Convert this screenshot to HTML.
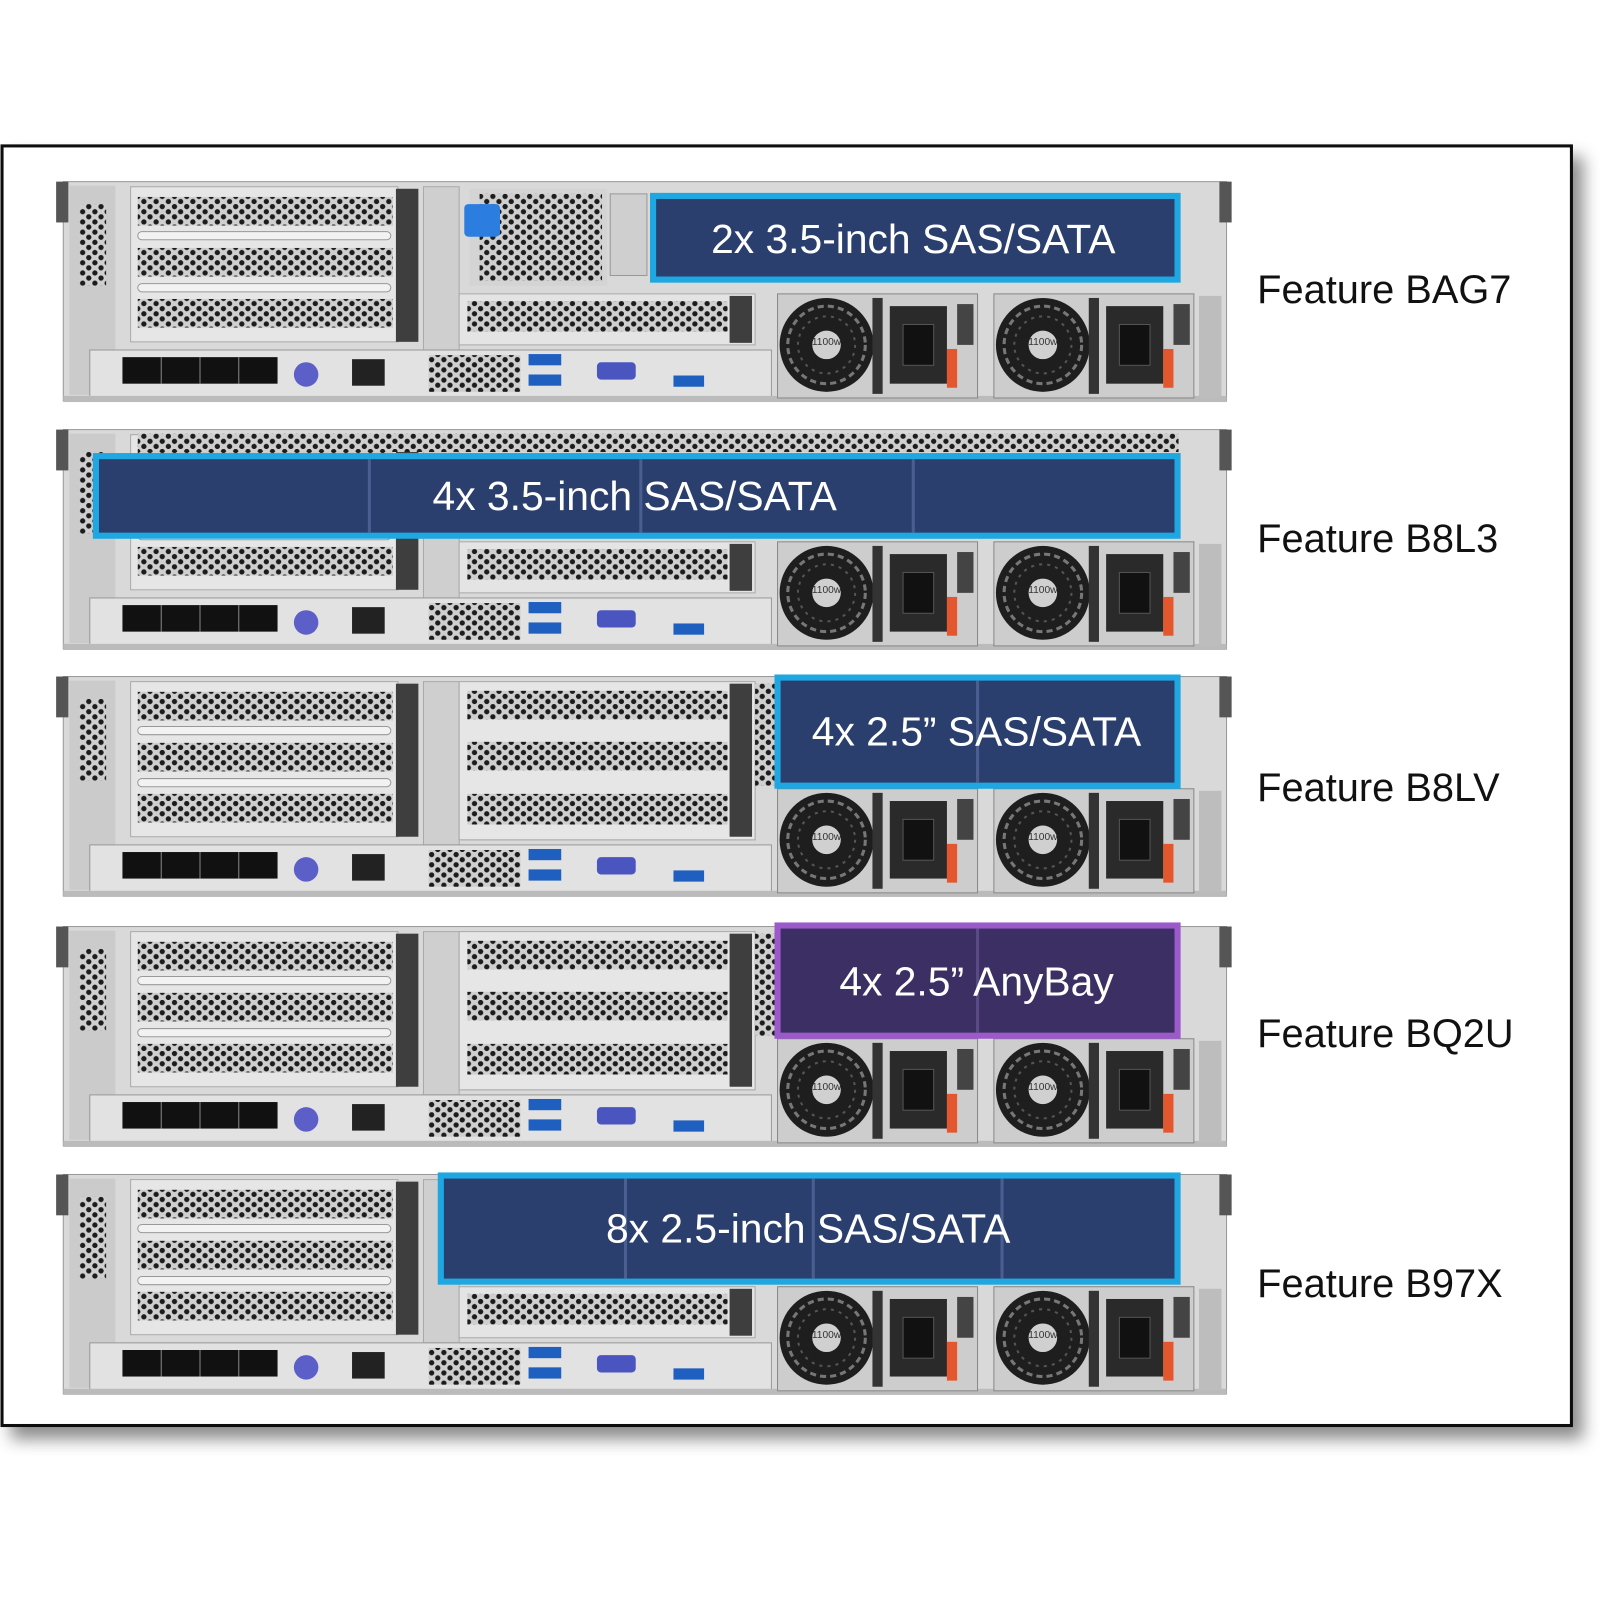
<!DOCTYPE html>
<html><head><meta charset="utf-8"><style>
html,body{margin:0;padding:0;background:#fff;width:1600px;height:1600px;overflow:hidden}
svg{display:block}
.lbl{font-family:"Liberation Sans",Arial,sans-serif;font-size:39px;fill:#111}
.bx{font-family:"Liberation Sans",Arial,sans-serif;font-size:40px;fill:#fff;text-anchor:middle;dominant-baseline:central}
.w{font-family:"Liberation Sans",Arial,sans-serif;font-size:10px;fill:#333;text-anchor:middle}
</style></head><body>
<svg width="1600" height="1600" viewBox="0 0 1568 1568" xmlns="http://www.w3.org/2000/svg">
<defs>
<pattern id="hex" width="12" height="10" patternUnits="userSpaceOnUse">
<rect width="12" height="10" fill="#cfcfcf"/>
<circle cx="3" cy="2.5" r="2.6" fill="#1c1c1c"/><circle cx="9" cy="7.5" r="2.6" fill="#1c1c1c"/>
</pattern>
<filter id="sh" x="-5%" y="-5%" width="115%" height="115%"><feDropShadow dx="10" dy="12" stdDeviation="8" flood-color="#000" flood-opacity="0.45"/></filter>
<g id="psu">
<rect x="762" y="288" width="196" height="102" fill="#cdcdcd" stroke="#888"/>
<circle cx="810" cy="338" r="46" fill="#1e1e1e"/>
<circle cx="810" cy="338" r="38" fill="none" stroke="#777" stroke-width="3" stroke-dasharray="6 4"/>
<circle cx="810" cy="338" r="28" fill="none" stroke="#555" stroke-width="2" stroke-dasharray="3 5"/>
<circle cx="810" cy="338" r="14" fill="#d0d0d0"/>
<rect x="855" y="292" width="10" height="94" fill="#333"/>
<rect x="872" y="300" width="56" height="76" fill="#2a2a2a"/>
<rect x="885" y="318" width="30" height="40" fill="#111" stroke="#555"/>
<rect x="928" y="342" width="10" height="38" fill="#e4572e"/>
<rect x="938" y="298" width="16" height="40" fill="#444"/>
</g>
<g id="srv">
<rect x="62" y="178" width="1140" height="215" fill="#d9d9d9" stroke="#999"/>
<rect x="55" y="178" width="12" height="40" fill="#555"/>
<rect x="1195" y="178" width="12" height="40" fill="#555"/>
<rect x="68" y="182" width="45" height="205" fill="#cbcbcb"/>
<rect x="78" y="200" width="26" height="80" fill="url(#hex)"/>
<rect x="128" y="183" width="262" height="152" fill="#e6e6e6" stroke="#aaa"/>
<rect x="135" y="193" width="250" height="28" fill="url(#hex)"/>
<rect x="135" y="243" width="250" height="28" fill="url(#hex)"/>
<rect x="135" y="293" width="250" height="28" fill="url(#hex)"/>
<rect x="135" y="227" width="248" height="8" rx="4" fill="#f2f2f2" stroke="#999"/>
<rect x="135" y="278" width="248" height="8" rx="4" fill="#f2f2f2" stroke="#999"/>
<rect x="388" y="185" width="22" height="150" fill="#3e3e3e"/>
<rect x="415" y="183" width="35" height="160" fill="#cfcfcf" stroke="#aaa"/>
<rect x="450" y="288" width="290" height="50" fill="#e4e4e4" stroke="#aaa"/>
<rect x="458" y="295" width="255" height="30" fill="url(#hex)"/>
<rect x="715" y="290" width="22" height="46" fill="#3e3e3e"/>
<rect x="88" y="343" width="668" height="47" fill="#e2e2e2" stroke="#999"/>
<rect x="120" y="350" width="152" height="26" fill="#111"/>
<line x1="158" y1="350" x2="158" y2="376" stroke="#888"/><line x1="196" y1="350" x2="196" y2="376" stroke="#888"/><line x1="234" y1="350" x2="234" y2="376" stroke="#888"/>
<circle cx="300" cy="367" r="12" fill="#5b5fc7"/>
<rect x="345" y="352" width="32" height="26" fill="#222"/>
<rect x="420" y="348" width="90" height="36" fill="url(#hex)"/>
<rect x="518" y="347" width="32" height="11" fill="#1f5fbf"/>
<rect x="518" y="367" width="32" height="11" fill="#1f5fbf"/>
<rect x="585" y="355" width="38" height="17" rx="4" fill="#4a55c0"/>
<rect x="660" y="368" width="30" height="11" fill="#1f5fbf"/>
<rect x="62" y="388" width="1140" height="6" fill="#bbb"/>
<use href="#psu"/>
<use href="#psu" x="212"/>
<rect x="1175" y="290" width="22" height="100" fill="#bdbdbd"/>
</g>
</defs>

<rect x="2" y="143" width="1538" height="1254" fill="#fff" stroke="#111" stroke-width="3" filter="url(#sh)"/>

<use href="#srv" y="0"/>
<use href="#srv" y="243"/>
<use href="#srv" y="485"/>
<use href="#srv" y="730"/>
<use href="#srv" y="973"/>

<rect x="460" y="185" width="135" height="95" fill="#d4d4d4"/>
<rect x="470" y="190" width="120" height="85" fill="url(#hex)"/>
<rect x="455" y="200" width="35" height="32" rx="4" fill="#2b7de0"/>
<rect x="598" y="190" width="36" height="80" fill="#cfcfcf" stroke="#999"/>
<rect x="135" y="425" width="1020" height="18" fill="url(#hex)"/>
<g>
<rect x="450" y="668" width="290" height="155" fill="#e6e6e6" stroke="#aaa"/>
<rect x="458" y="677" width="255" height="28" fill="url(#hex)"/>
<rect x="458" y="727" width="255" height="28" fill="url(#hex)"/>
<rect x="458" y="778" width="255" height="30" fill="url(#hex)"/>
<rect x="715" y="670" width="22" height="150" fill="#3e3e3e"/>
<rect x="450" y="913" width="290" height="155" fill="#e6e6e6" stroke="#aaa"/>
<rect x="458" y="922" width="255" height="28" fill="url(#hex)"/>
<rect x="458" y="972" width="255" height="28" fill="url(#hex)"/>
<rect x="458" y="1023" width="255" height="30" fill="url(#hex)"/>
<rect x="715" y="915" width="22" height="150" fill="#3e3e3e"/>
<rect x="740" y="670" width="20" height="100" fill="url(#hex)"/>
<rect x="740" y="915" width="20" height="100" fill="url(#hex)"/>
</g>

<rect x="640" y="192" width="514" height="82" fill="#2b3f6e" stroke="#1ea7e1" stroke-width="6"/>
<text class="bx" x="895" y="234">2x 3.5-inch SAS/SATA</text>

<rect x="94" y="447" width="1060" height="78" fill="#2b3f6e" stroke="#1ea7e1" stroke-width="6"/>
<line x1="362" y1="450" x2="362" y2="522" stroke="#4a5f90" stroke-width="3"/>
<line x1="628" y1="450" x2="628" y2="522" stroke="#4a5f90" stroke-width="3"/>
<line x1="895" y1="450" x2="895" y2="522" stroke="#4a5f90" stroke-width="3"/>
<text class="bx" x="622" y="486">4x 3.5-inch SAS/SATA</text>

<rect x="762" y="664" width="392" height="106" fill="#2b3f6e" stroke="#1ea7e1" stroke-width="6"/>
<line x1="958" y1="667" x2="958" y2="767" stroke="#4a5f90" stroke-width="3"/>
<text class="bx" x="957" y="717">4x 2.5” SAS/SATA</text>

<rect x="762" y="907" width="392" height="108" fill="#3c2f63" stroke="#9b59c9" stroke-width="6"/>
<line x1="958" y1="910" x2="958" y2="1012" stroke="#5a4a85" stroke-width="3"/>
<text class="bx" x="957" y="962">4x 2.5” AnyBay</text>

<rect x="432" y="1152" width="722" height="104" fill="#2b3f6e" stroke="#1ea7e1" stroke-width="6"/>
<line x1="613" y1="1155" x2="613" y2="1253" stroke="#4a5f90" stroke-width="3"/>
<line x1="797" y1="1155" x2="797" y2="1253" stroke="#4a5f90" stroke-width="3"/>
<line x1="982" y1="1155" x2="982" y2="1253" stroke="#4a5f90" stroke-width="3"/>
<text class="bx" x="792" y="1204">8x 2.5-inch SAS/SATA</text>

<g class="w">
<text x="810" y="338">1100w</text><text x="1022" y="338">1100w</text>
<text x="810" y="581">1100w</text><text x="1022" y="581">1100w</text>
<text x="810" y="823">1100w</text><text x="1022" y="823">1100w</text>
<text x="810" y="1068">1100w</text><text x="1022" y="1068">1100w</text>
<text x="810" y="1311">1100w</text><text x="1022" y="1311">1100w</text>
</g>

<text class="lbl" x="1232" y="297">Feature BAG7</text>
<text class="lbl" x="1232" y="541">Feature B8L3</text>
<text class="lbl" x="1232" y="785">Feature B8LV</text>
<text class="lbl" x="1232" y="1026">Feature BQ2U</text>
<text class="lbl" x="1232" y="1271">Feature B97X</text>
</svg>
</body></html>
